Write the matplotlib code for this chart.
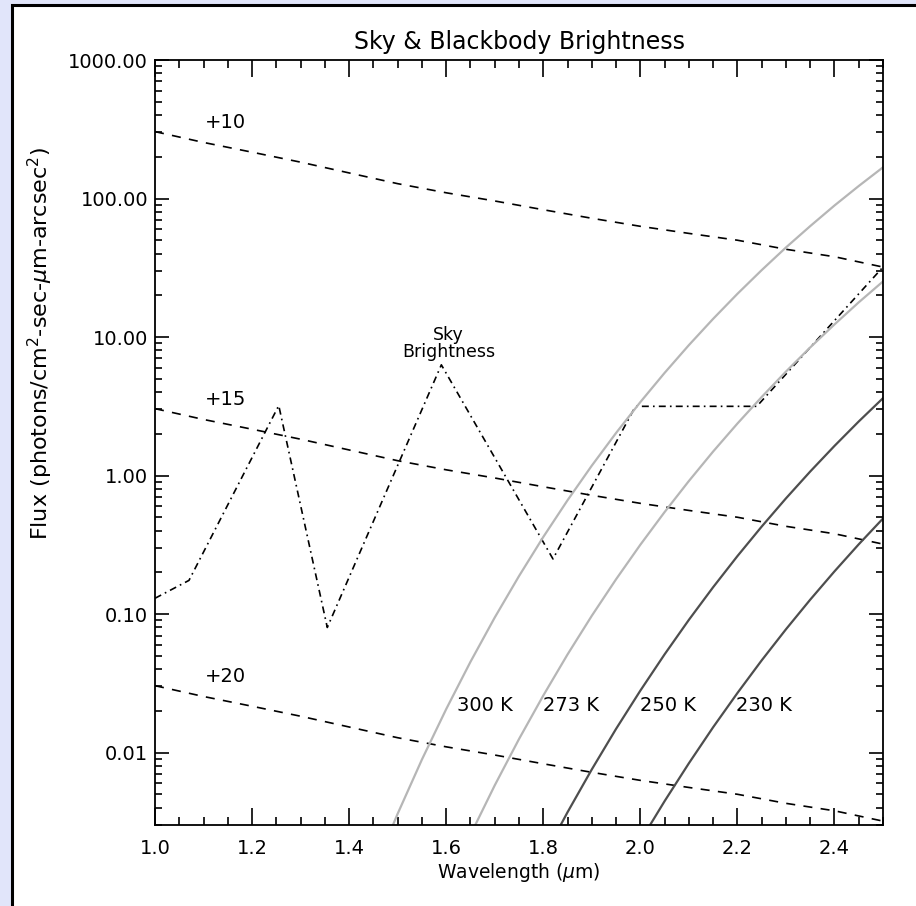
import matplotlib
matplotlib.use("Agg")
import matplotlib.pyplot as plt
from matplotlib.patches import Rectangle
from matplotlib.ticker import FixedLocator, LogLocator, MultipleLocator, FuncFormatter, NullFormatter

plt.rcParams['font.family'] = ['DejaVu Sans']
plt.rcParams['lines.scale_dashes'] = False

# magnitude reference lines (+10, +15, +20)
wl_mag = [1.0, 1.1, 1.2, 1.3, 1.4, 1.5, 1.6, 1.7, 1.8, 1.9, 2.0, 2.1, 2.2, 2.3, 2.4, 2.5]
mag10 = [304, 254, 216, 183, 153, 128, 110, 96, 83, 72, 63, 56, 50, 43, 38, 32]
mag15 = [3.04, 2.54, 2.16, 1.83, 1.53, 1.28, 1.10, 0.96, 0.83, 0.72, 0.63, 0.56, 0.50, 0.43, 0.38, 0.32]
mag20 = [0.0304, 0.0254, 0.0216, 0.0183, 0.0153, 0.0128, 0.0110, 0.0096, 0.0083,
         0.0072, 0.0063, 0.0056, 0.0050, 0.0043, 0.0038, 0.0032]
mag_labels = ["+10", "+15", "+20"]
mag_label_y = [353, 3.53, 0.0353]

# sky brightness
wl_sky = [1.00, 1.07, 1.255, 1.355, 1.59, 1.82, 1.99, 2.24, 2.50]
sky = [0.13, 0.175, 3.2, 0.08, 6.3, 0.25, 3.16, 3.16, 32]

# blackbody curves
wl_300 = [1.45, 1.5, 1.55, 1.6, 1.65, 1.7, 1.75, 1.8, 1.85, 1.9, 1.95, 2.0,
          2.05, 2.1, 2.15, 2.2, 2.25, 2.3, 2.35, 2.4, 2.45, 2.5]
bb_300 = [0.00138, 0.00362, 0.00891, 0.0206, 0.0452, 0.0944, 0.188, 0.360, 0.663, 1.179, 2.03, 3.39,
          5.51, 8.74, 13.53, 20.5, 30.4, 44.3, 63.2, 89.0, 123.1, 168]
wl_273 = [1.6, 1.65, 1.7, 1.75, 1.8, 1.85, 1.9, 1.95, 2.0, 2.05, 2.1,
          2.15, 2.2, 2.25, 2.3, 2.35, 2.4, 2.45, 2.5]
bb_273 = [0.00106, 0.00255, 0.0058, 0.01252, 0.0258, 0.0511, 0.0972, 0.1783, 0.3165, 0.545, 0.913,
          1.491, 2.373, 3.69, 5.63, 8.41, 12.33, 17.8, 25.2]
wl_250 = [1.8, 1.85, 1.9, 1.95, 2.0, 2.05, 2.1, 2.15, 2.2, 2.25, 2.3, 2.35, 2.4, 2.45, 2.5]
bb_250 = [0.00175, 0.00371, 0.00756, 0.01483, 0.0280, 0.0512, 0.0908, 0.1563, 0.262, 0.428,
          0.684, 1.069, 1.636, 2.457, 3.62]
wl_230 = [2.0, 2.05, 2.1, 2.15, 2.2, 2.25, 2.3, 2.35, 2.4, 2.45, 2.5]
bb_230 = [0.0023, 0.00446, 0.00837, 0.01524, 0.0269, 0.0463, 0.0776, 0.1270, 0.2033, 0.3188, 0.4896]
bb_labels = ["300 K", "273 K", "250 K", "230 K"]
bb_label_x = [1.622, 1.80, 2.0, 2.197]

fig = plt.figure(figsize=(9.16, 9.06), dpi=100)
fig.patch.set_facecolor('#e1e5fa')

# white page with black border on left/top
page = fig.add_axes([0, 0, 1, 1], zorder=-10)
page.set_xlim(0, 916)
page.set_ylim(906, 0)
page.axis('off')
page.add_patch(Rectangle((12, 5), 1000, 1000, facecolor='white', edgecolor='black', lw=2.2))

ax = fig.add_axes([155 / 916, 1 - 825 / 906, 728 / 916, 765 / 906])
ax.set_yscale('log')
ax.set_xlim(1.0, 2.5)
ax.set_ylim(0.003, 1000)

dash = (0, (6.5, 6))
for ys in [mag10, mag15, mag20]:
    ax.plot(wl_mag, ys, color='black', lw=1.2, linestyle=dash)
for lab, yy in zip(mag_labels, mag_label_y):
    ax.text(1.103, yy, lab, fontsize=14, ha='left', va='center')

ax.plot(wl_sky, sky, color='black', lw=1.2, linestyle=(0, (5, 3, 1.2, 3)))
ax.text(1.605, 6.7, "Sky\nBrightness", fontsize=12.5, ha='center', va='bottom', linespacing=0.95)

light = '#b6b6b6'
dark = '#4e4e4e'
ax.plot(wl_300, bb_300, color=light, lw=1.6)
ax.plot(wl_273, bb_273, color=light, lw=1.6)
ax.plot(wl_250, bb_250, color=dark, lw=1.6)
ax.plot(wl_230, bb_230, color=dark, lw=1.6)
for lab, xx in zip(bb_labels, bb_label_x):
    ax.text(xx, 0.0217, lab, fontsize=14, ha='left', va='center')

ax.xaxis.set_major_locator(MultipleLocator(0.2))
ax.xaxis.set_minor_locator(MultipleLocator(0.05))
ax.xaxis.set_major_formatter(FuncFormatter(lambda v, p: "%.1f" % v))
ax.yaxis.set_major_locator(FixedLocator([0.01, 0.1, 1, 10, 100, 1000]))
ax.yaxis.set_minor_locator(LogLocator(base=10, subs=range(2, 10)))
ax.yaxis.set_minor_formatter(NullFormatter())
ax.yaxis.set_major_formatter(FuncFormatter(lambda v, p: "%.2f" % v))

ax.tick_params(which='both', direction='in', top=True, right=True, width=1.2, colors='black')
ax.tick_params(axis='x', which='major', length=12, pad=10, labelsize=14)
ax.tick_params(axis='x', which='minor', length=6)
ax.tick_params(axis='y', which='major', length=10, pad=5, labelsize=14)
ax.tick_params(axis='y', which='minor', length=5)
for s in ax.spines.values():
    s.set_linewidth(1.3)

ax.set_title("Sky & Blackbody Brightness", fontsize=17, pad=8)
ax.set_xlabel(r"Wavelength ($\mu$m)", fontsize=13.5, labelpad=2)
ax.set_ylabel(r"Flux (photons/cm$^2$-sec-$\mu$m-arcsec$^2$)", fontsize=16)
ax.yaxis.set_label_coords(-0.138, 0.63)

fig.savefig("out.png", dpi=100, facecolor=fig.get_facecolor())
